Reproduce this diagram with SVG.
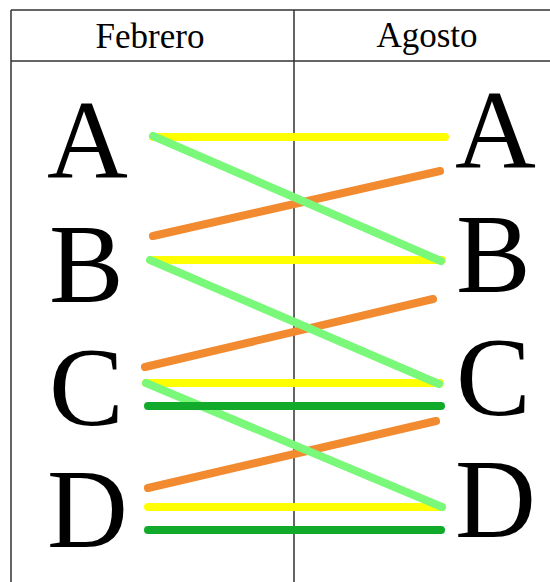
<svg xmlns="http://www.w3.org/2000/svg" width="550" height="582" viewBox="0 0 550 582">
<style>
.grid{fill:none;stroke:#333;stroke-width:1.5}
.hdr{font-family:"Liberation Serif",serif;font-size:35px;fill:#000;text-anchor:middle}
.big{font-family:"Liberation Serif",serif;font-size:112px;fill:#000}
.ln{stroke-width:8;stroke-linecap:round;fill:none}
.y{stroke:#ffff00}.o{stroke:#f28a30}.g{stroke:#7af87a}.d{stroke:#11aa2a}
</style>
<rect width="550" height="582" fill="#fff"/>
<g id="table">
<path class="grid" d="M11,10 H560 M11,61 H560 M11,10 V590 M294,10 V590"/>
<text class="hdr" x="150" y="48">Febrero</text>
<text class="hdr" x="427" y="47">Agosto</text>
</g>
<g id="left-A"><text class="big" x="47" y="178">A</text></g>
<g id="left-B"><text class="big" x="49" y="302">B</text></g>
<g id="left-C"><text class="big" x="49" y="425">C</text></g>
<g id="left-D"><text class="big" x="47" y="547">D</text></g>
<g id="right-A"><text class="big" x="455" y="168">A</text></g>
<g id="right-B"><text class="big" x="456" y="292">B</text></g>
<g id="right-C"><text class="big" x="456" y="415">C</text></g>
<g id="right-D"><text class="big" x="455" y="537">D</text></g>
<g id="connectors">
<line class="ln y" x1="153" y1="137" x2="445" y2="137"/>
<line class="ln y" x1="151" y1="260" x2="442" y2="260"/>
<line class="ln y" x1="146" y1="383" x2="440" y2="383"/>
<line class="ln y" x1="148" y1="507" x2="442" y2="507"/>
<line class="ln o" x1="153" y1="236" x2="440" y2="171"/>
<line class="ln o" x1="145" y1="367" x2="433" y2="299"/>
<line class="ln o" x1="148" y1="488" x2="436" y2="421"/>
<line class="ln g" x1="153" y1="136" x2="441" y2="261"/>
<line class="ln g" x1="150" y1="260" x2="439" y2="384"/>
<line class="ln g" x1="146" y1="383" x2="442" y2="507"/>
<line class="ln d" x1="148" y1="406" x2="441" y2="406"/>
<line class="ln d" x1="148" y1="530" x2="441" y2="530"/>
</g>
</svg>
